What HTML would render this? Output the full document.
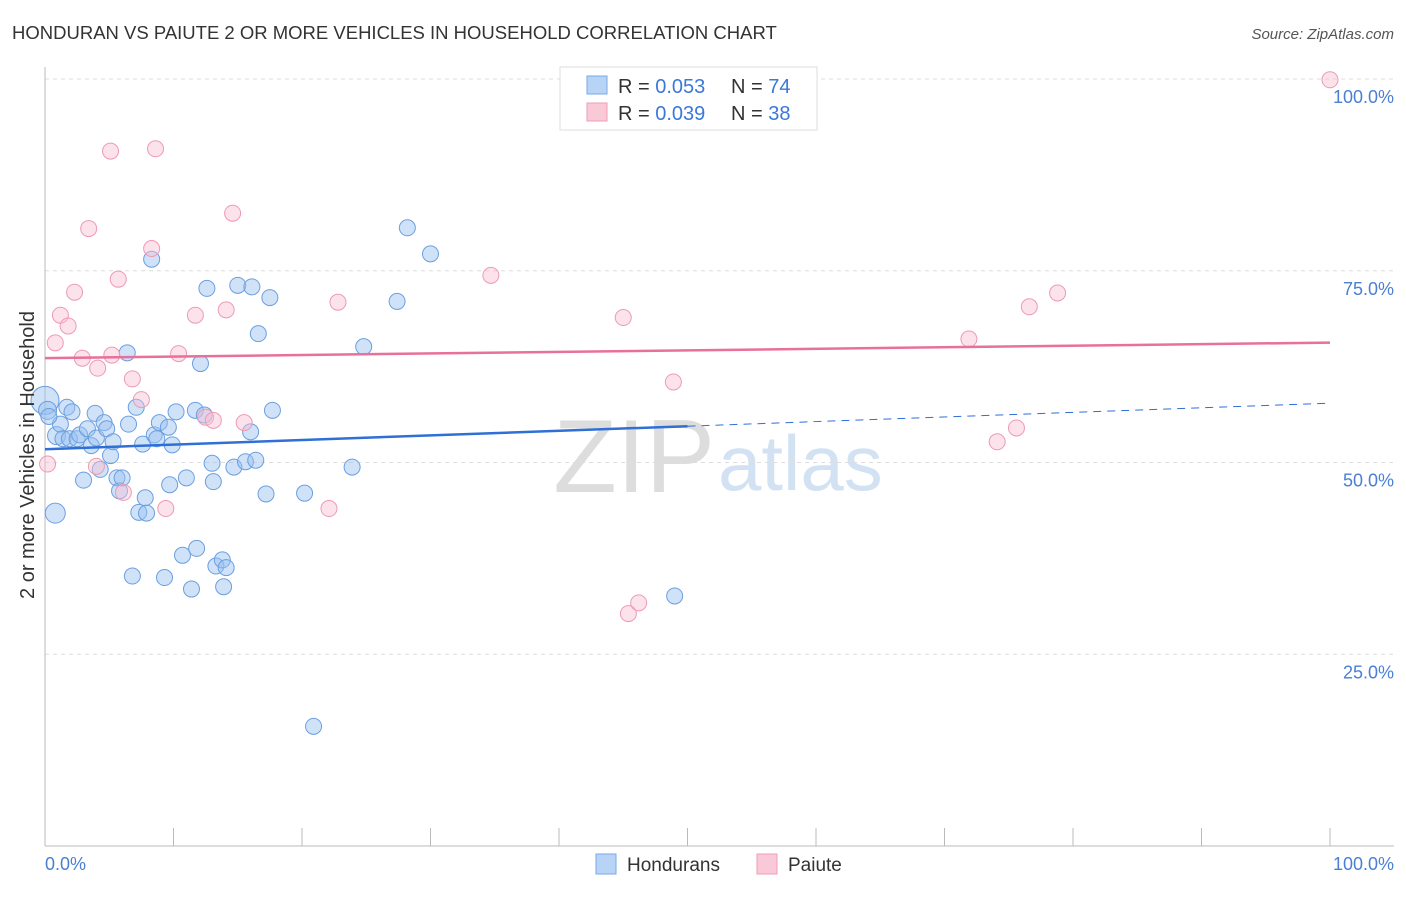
<!DOCTYPE html>
<html><head><meta charset="utf-8"><style>
body{margin:0;background:#fff;font-family:"Liberation Sans",sans-serif}
svg text{font-family:"Liberation Sans",sans-serif}
</style></head><body>
<svg id="c" width="1406" height="892">
<text x="12" y="39" font-size="18.5" fill="#333">HONDURAN VS PAIUTE 2 OR MORE VEHICLES IN HOUSEHOLD CORRELATION CHART</text>
<text x="1394" y="39" font-size="15" fill="#555" text-anchor="end" font-style="italic">Source: ZipAtlas.com</text>
<text x="715" y="492" font-size="104" fill="#ddd" font-family="Liberation Serif" text-anchor="end">ZIP</text>
<text x="718" y="490" font-size="78" fill="#d3e2f3">atlas</text>
<g id="grid"></g><g id="pts"></g><g id="lines"></g>
<text transform="translate(34,455) rotate(-90)" font-size="20" fill="#333" text-anchor="middle">2 or more Vehicles in Household</text>
<text x="45" y="870" font-size="18" fill="#4a7fd4">0.0%</text>
<text x="1394" y="870" font-size="18" fill="#4a7fd4" text-anchor="end">100.0%</text>
<g>
<rect x="560" y="67" width="257" height="63" fill="#fff" stroke="#ddd"/>
<rect x="587" y="76" width="20" height="18" fill="#b7d3f5" stroke="#7aaae8"/>
<rect x="587" y="103" width="20" height="18" fill="#f9c9d8" stroke="#ef9db8"/>
<text x="618" y="93" font-size="20" fill="#333">R = <tspan fill="#3b78d8">0.053</tspan></text>
<text x="731" y="93" font-size="20" fill="#333">N = <tspan fill="#3b78d8">74</tspan></text>
<text x="618" y="120" font-size="20" fill="#333">R = <tspan fill="#3b78d8">0.039</tspan></text>
<text x="731" y="120" font-size="20" fill="#333">N = <tspan fill="#3b78d8">38</tspan></text>
</g>
<g>
<rect x="596" y="854" width="20" height="20" fill="#b7d3f5" stroke="#7aaae8"/>
<text x="627" y="871" font-size="19" fill="#333">Hondurans</text>
<rect x="757" y="854" width="20" height="20" fill="#f9c9d8" stroke="#ef9db8"/>
<text x="788" y="871" font-size="19" fill="#333">Paiute</text>
</g>
</svg>
<script>
const yTicks=[25,50,75,100];
const xTickCount=11;
const blueX=[0,0.2,0.8,0.9,1.2,1.4,1.7,2.1,1.9,2.5,2.7,3,3.3,3.6,3.9,4,4.3,4.6,4.8,5.1,5.3,5.6,5.8,6,6.4,6.5,6.8,7.1,7.3,7.6,7.8,7.9,8.3,8.5,8.7,8.9,9.3,9.6,9.7,9.9,10.2,10.7,11,11.4,11.7,11.8,12.1,12.4,12.6,13,13.1,13.3,13.8,13.9,14.1,14.7,15,15.6,16,16.1,16.4,16.6,17.2,17.5,17.7,20.2,20.9,23.9,24.8,27.4,28.2,30,49,0.3];
const blueY=[58.1,56.8,43.4,53.5,55,53.1,57.2,56.6,53.1,53.1,53.6,47.7,54.4,52.2,56.4,53.2,49.1,55.2,54.4,50.9,52.7,48,46.3,48,64.3,55,35.2,57.2,43.5,52.4,45.4,43.4,76.5,53.6,53.1,55.2,35,54.6,47.1,52.3,56.6,37.9,48,33.5,56.8,38.8,62.9,56.2,72.7,49.9,47.5,36.5,37.3,33.8,36.3,49.4,73.1,50.1,54,72.9,50.3,66.8,45.9,71.5,56.8,46,15.6,49.4,65.1,71,80.6,77.2,32.6,56];
const blueR=[14,9,10,9,8,8,8,8,8,8,8,8,8,8,8,8,8,8,8,8,8,8,8,8,8,8,8,8,8,8,8,8,8,8,8,8,8,8,8,8,8,8,8,8,8,8,8,8,8,8,8,8,8,8,8,8,8,8,8,8,8,8,8,8,8,8,8,8,8,8,8,8,8,8];
const pinkX=[0.2,0.8,1.2,1.8,2.3,2.9,3.4,4,4.1,5.1,5.2,5.7,6.1,6.8,7.5,8.3,8.6,9.4,10.4,11.7,12.5,13.1,14.1,14.6,15.5,22.1,22.8,34.7,45,45.4,46.2,48.9,71.9,74.1,75.6,76.6,78.8,100];
const pinkY=[49.8,65.6,69.2,67.8,72.2,63.6,80.5,49.5,62.3,90.6,64,73.9,46.1,60.9,58.2,77.9,90.9,44,64.2,69.2,55.9,55.5,69.9,82.5,55.2,44,70.9,74.4,68.9,30.3,31.7,60.5,66.1,52.7,54.5,70.3,72.1,99.9];
const X0=45,X1=1330,Y0=846,Y100=79;
const sx=v=>X0+(X1-X0)*v/100, sy=v=>Y0-(Y0-Y100)*v/100;
const NS="http://www.w3.org/2000/svg";
function mk(t,a,p){const e=document.createElementNS(NS,t);for(const k in a)e.setAttribute(k,a[k]);p.appendChild(e);return e;}
const g=document.getElementById('grid');
for(const t of yTicks){
 const l=mk('line',{x1:X0,x2:1394,y1:sy(t),y2:sy(t),stroke:'#ddd','stroke-dasharray':'4,4'},g);
 
 
 const tx=mk('text',{x:1394,y:sy(t)+24,'font-size':18,fill:'#4a7fd4','text-anchor':'end'},g);
 tx.textContent=t.toFixed(1)+'%';
 
 
}
const ax=mk('line',{x1:X0,x2:1394,y1:Y0,y2:Y0,stroke:'#bbb'},g);


const ay=mk('line',{x1:X0,x2:X0,y1:67,y2:Y0,stroke:'#bbb'},g);


for(let i=0;i<xTickCount;i++){const x=sx(i*10);
 const tk=mk('line',{x1:x,x2:x,y1:Y0,y2:Y0-18,stroke:'#bbb'},g);
 
 }
const p=document.getElementById('pts');
blueX.forEach((v,i)=>{const c=mk('circle',{cx:sx(v),cy:sy(blueY[i]),r:blueR[i],fill:'rgba(150,190,240,0.45)',stroke:'#6b9fe0','stroke-width':1},p);
 
 });
pinkX.forEach((v,i)=>{const c=mk('circle',{cx:sx(v),cy:sy(pinkY[i]),r:8,fill:'rgba(248,190,210,0.45)',stroke:'#ee9ab5','stroke-width':1},p);
 
 });
function fit(xs,ys){const n=xs.length,mx=xs.reduce((a,b)=>a+b)/n,my=ys.reduce((a,b)=>a+b)/n;let sxy=0,sxx=0;xs.forEach((x,i)=>{sxy+=(x-mx)*(ys[i]-my);sxx+=(x-mx)**2});const b=sxy/sxx;return [my-b*mx,b];}
const L=document.getElementById('lines');
const [ba,bb]=fit(blueX,blueY),[pa,pb]=fit(pinkX,pinkY);
const l1=mk('line',{x1:sx(0),y1:sy(ba),x2:sx(50),y2:sy(ba+bb*50),stroke:'#2f6fd6','stroke-width':2.5},L);


const l2=mk('line',{x1:sx(50),y1:sy(ba+bb*50),x2:sx(100),y2:sy(ba+bb*100),stroke:'#2f6fd6','stroke-width':1,'stroke-dasharray':'8,6'},L);


const l3=mk('line',{x1:sx(0),y1:sy(pa),x2:sx(100),y2:sy(pa+pb*100),stroke:'#e8709a','stroke-width':2.5},L);


</script>
</body></html>
